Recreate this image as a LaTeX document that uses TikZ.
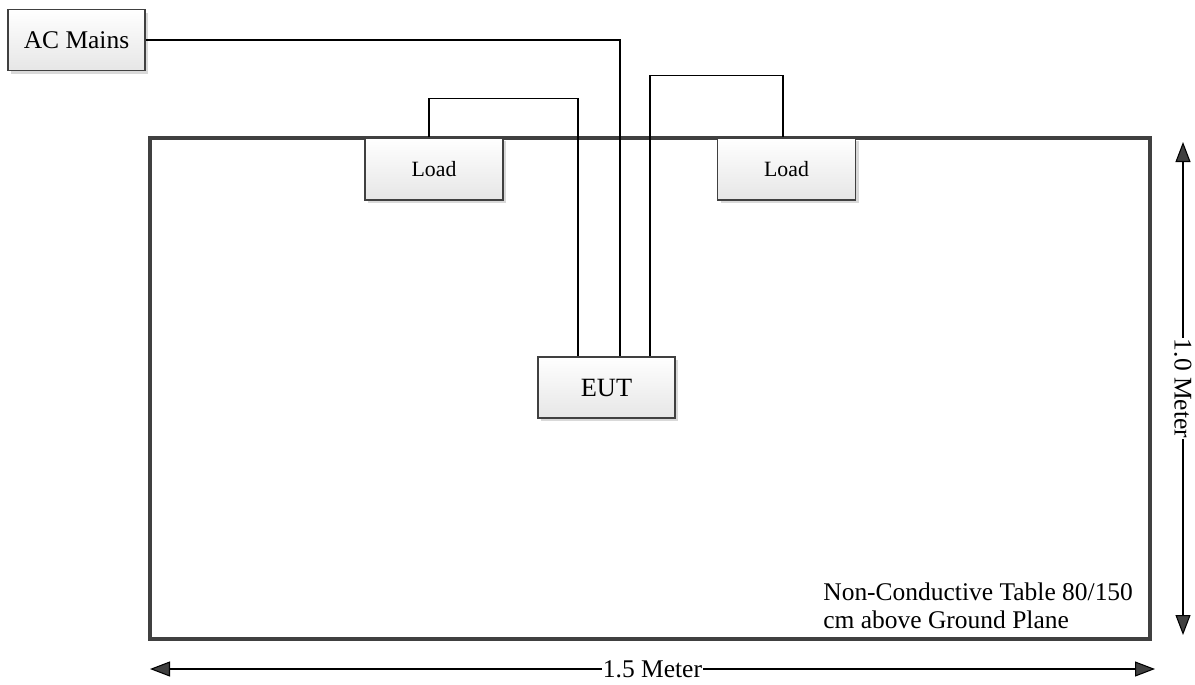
\documentclass[tikz,border=0pt]{standalone}
\usepackage{fontspec}
\setmainfont{Liberation Serif}
\usetikzlibrary{arrows.meta, positioning, calc, shadows}

\begin{document}
\begin{tikzpicture}[
    every node/.style={font=\rmfamily},
    unitbox/.style={draw=edgecolor, line width=1.1pt, top color=white,
        bottom color=boxfill, minimum width=2.74cm, minimum height=1.22cm,
        inner sep=0pt, drop shadow={shadow xshift=0.06cm, shadow yshift=-0.06cm,
        fill=shadowcolor, opacity=1}},
    wire/.style={draw=black, line width=0.6pt},
    dimline/.style={draw=black, line width=0.6pt,
        {Triangle[length=0.40cm, width=0.30cm, fill=edgecolor]}-{Triangle[length=0.40cm, width=0.30cm, fill=edgecolor]}},
]

\definecolor{edgecolor}{HTML}{404040}   % box and table outlines
\definecolor{boxfill}{HTML}{E6E6E6}
\definecolor{shadowcolor}{HTML}{D9D9D9}

% ================================================================
% Test setup seen from above, 1 px of the sheet = 0.02 cm.
% Origin top left, y runs down (negative).
%   table        x 3.00 .. 23.00, y -2.76 .. -12.78
%   loads        sit on the top edge of the table
%   EUT          in the middle of the table
% ================================================================

\useasboundingbox (0,0) rectangle (23.90,-13.68);

% ---------------------------------------------------------------- table
\draw[draw=edgecolor, line width=2.2pt] (3.00,-2.76) rectangle (23.00,-12.78);

% ---------------------------------------------------------------- boxes
\node[unitbox, font=\rmfamily\fontsize{14.5}{17}\selectfont] (acmains) at (1.53,-0.80) {AC Mains};
\node[unitbox, minimum width=2.76cm, minimum height=1.24cm,
      font=\rmfamily\fontsize{12.4}{14}\selectfont] (loadL) at (8.68,-3.38) {Load};
\node[unitbox, minimum width=2.76cm, minimum height=1.24cm,
      font=\rmfamily\fontsize{12.4}{14}\selectfont] (loadR) at (15.73,-3.38) {Load};
\node[unitbox, font=\rmfamily\fontsize{15}{17}\selectfont] (eut) at (12.13,-7.75) {EUT};

% pins on the EUT top edge and on the loads
\coordinate (pinA) at ($(eut.north)+(-0.57,0)$);
\coordinate (pinB) at ($(eut.north)+(0.27,0)$);
\coordinate (pinC) at ($(eut.north)+(0.87,0)$);
\coordinate (pinL) at ($(loadL.north)+(-0.10,0)$);
\coordinate (pinR) at ($(loadR.north)+(-0.07,0)$);

% ---------------------------------------------------------------- wires
\draw[wire] (acmains.east) -| (pinB);
\draw[wire] (pinL) -- ($(pinL)+(0,0.78)$) -| (pinA);
\draw[wire] (pinC) |- ($(pinR)+(0,1.24)$) -- (pinR);

% ---------------------------------------------------------------- dimensions
\coordinate (vtop) at (23.66,-2.84);
\coordinate (vbot) at (23.66,-12.70);
\coordinate (hleft) at (3.00,-13.38);
\coordinate (hright) at (23.10,-13.38);

\draw[dimline] (vbot) -- (vtop)
    node[midway, fill=white, inner sep=0.5pt, rotate=-90,
         font=\rmfamily\fontsize{14.5}{17}\selectfont] (vlabel) {1.0 Meter};
\draw[dimline] (hleft) -- (hright)
    node[midway, fill=white, inner sep=0.5pt,
         font=\rmfamily\fontsize{14.5}{17}\selectfont] (hlabel) {1.5 Meter};

% ---------------------------------------------------------------- note
\node[anchor=north west, align=left, inner sep=0pt,
      font=\rmfamily\fontsize{14.5}{16}\selectfont] (note) at (16.46,-11.65)
    {Non-Conductive Table 80/150\\cm above Ground Plane};

\end{tikzpicture}
\end{document}
